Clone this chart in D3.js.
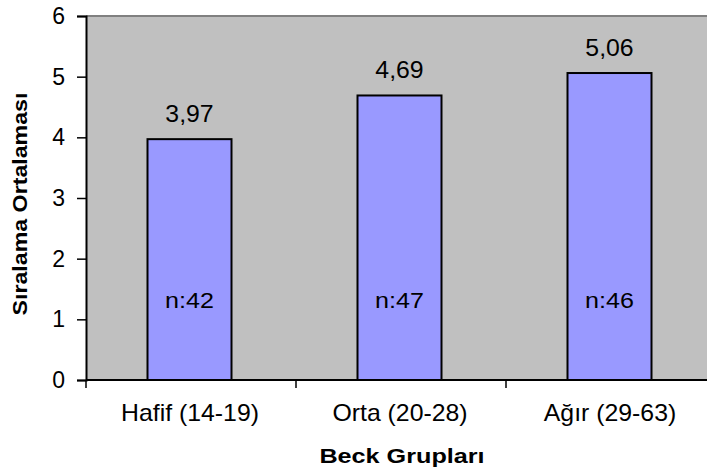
<!DOCTYPE html>
<html>
<head>
<meta charset="utf-8">
<script src="https://cdn.jsdelivr.net/npm/d3@7"></script>
<style>
  html, body { margin: 0; padding: 0; background: #fff; }
  svg { display: block; font-family: "Liberation Sans", Arial, sans-serif; }
</style>
</head>
<body>
<svg id="chart" width="707" height="475"></svg>
<script>
// Beck groups, mean rank per group and group sizes
const categories = ["Hafif (14-19)", "Orta (20-28)", "Ağır (29-63)"];
const values = [3.97, 4.69, 5.06];
const counts = [42, 47, 46];
const yTicks = [0, 1, 2, 3, 4, 5, 6];

const svg = d3.select("#chart");
const margin = { left: 86, top: 16, bottom: 95 };
const plotW = 630;
const plotH = 475 - margin.top - margin.bottom;

const x = d3.scaleBand().domain(categories).range([0, plotW]).paddingInner(0.6).paddingOuter(0.3);
const xBand = d3.scaleBand().domain(categories).range([0, plotW]);
const y = d3.scaleLinear().domain([0, 6]).range([plotH, 0]);

// text with a slightly widened face
function label(parent, tx, ty, str, size, sx, opts = {}) {
  return parent.append("text")
    .attr("transform", `translate(${tx},${ty}) ${opts.rotate ? "rotate(" + opts.rotate + ")" : ""} scale(${sx},1)`)
    .attr("text-anchor", opts.anchor || "middle")
    .attr("font-size", size)
    .attr("font-weight", opts.bold ? "bold" : "normal")
    .attr("fill", "#000")
    .text(str);
}

const g = svg.append("g").attr("transform", `translate(${margin.left},${margin.top})`);

// plot background
g.append("rect").attr("x", 0).attr("y", 0).attr("width", plotW).attr("height", plotH)
  .attr("fill", "#C0C0C0");
g.append("line").attr("x1", 0).attr("x2", plotW).attr("y1", 0).attr("y2", 0)
  .attr("stroke", "#808080").attr("stroke-width", 2);

const fmt = v => v.toFixed(2).replace(".", ",");

// bars
categories.forEach((c, i) => {
  g.append("rect")
    .attr("x", x(c) - 1.5)
    .attr("y", y(values[i]))
    .attr("width", x.bandwidth())
    .attr("height", plotH - y(values[i]))
    .attr("fill", "#9999FF").attr("stroke", "#000").attr("stroke-width", 2);
  const cx = x(c) - 1.5 + x.bandwidth() / 2;
  label(g, cx, y(values[i]) - 17, fmt(values[i]), 23, 1.08);
  label(g, cx, y(1) - 11, "n:" + counts[i], 22, 1.14);
});

// y axis
const yAxis = g.append("g").call(d3.axisLeft(y).tickValues(yTicks).tickSize(9).tickPadding(12).tickFormat(d3.format("d")));
yAxis.select(".domain").attr("stroke", "#000").attr("stroke-width", 2);
yAxis.selectAll("line").attr("stroke", "#000").attr("stroke-width", 1.5);
yAxis.selectAll("text").attr("font-size", 23).attr("fill", "#000")
  .attr("font-family", "Liberation Sans, Arial, sans-serif");

// x axis with ticks on band boundaries
const xAxisG = g.append("g").attr("transform", `translate(0,${plotH})`);
xAxisG.append("line").attr("x1", 0).attr("x2", plotW).attr("stroke", "#000").attr("stroke-width", 2);
xAxisG.selectAll(".tick").data(categories.concat([null])).enter().append("line")
  .attr("x1", (d, i) => i * xBand.step()).attr("x2", (d, i) => i * xBand.step())
  .attr("y1", 0).attr("y2", 8).attr("stroke", "#000").attr("stroke-width", 1.5);
categories.forEach(c => {
  label(xAxisG, xBand(c) + xBand.bandwidth() / 2 - 1, 41, c, 23, 1.08);
});

// axis titles
label(svg, margin.left + 316, 463, "Beck Grupları", 21, 1.2, { bold: true });
label(svg, 27, 204, "Sıralama Ortalaması", 20, 1.16, { bold: true, rotate: -90 });
</script>
</body>
</html>
